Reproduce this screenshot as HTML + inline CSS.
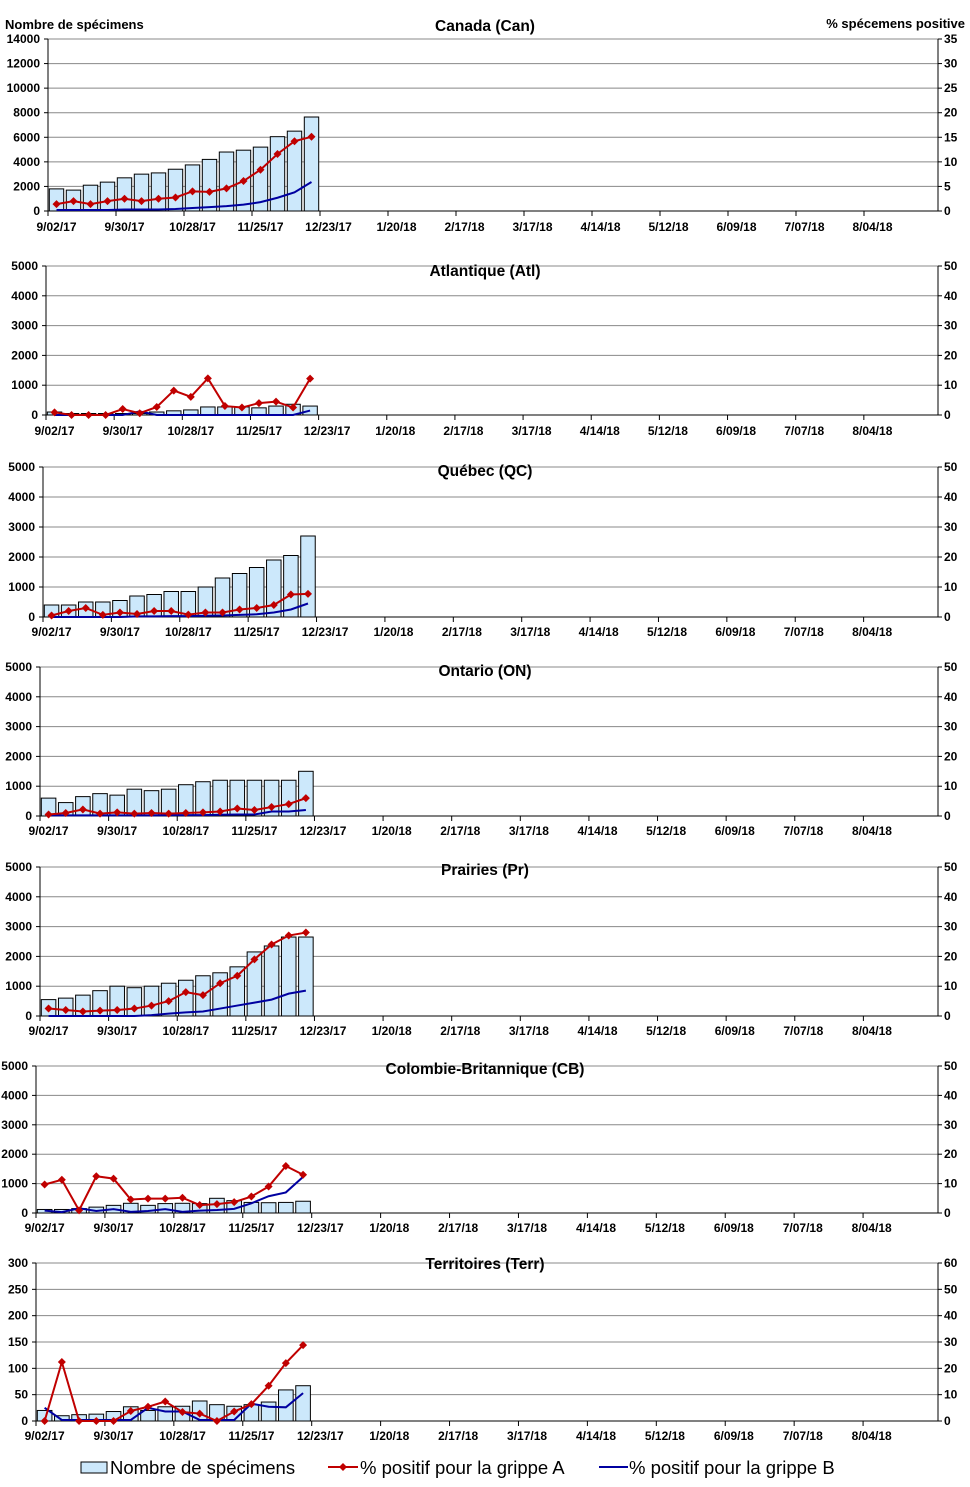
<!DOCTYPE html>
<html><head><meta charset="utf-8"><style>
body{margin:0;background:#fff;}
svg text{font-family:"Liberation Sans",Arial,sans-serif;}
</style></head><body>
<svg id="c" width="970" height="1482" xmlns="http://www.w3.org/2000/svg">
<text x="5" y="29" font-size="13" font-weight="bold">Nombre de spécimens</text>
<text x="965" y="28" font-size="13" font-weight="bold" text-anchor="end">% spécemens positive</text>
<g>
<rect x="81" y="1462" width="26" height="11" fill="#cce8fb" stroke="#000"/>
<text x="110" y="1474" font-size="18.5">Nombre de spécimens</text>
<line x1="328" y1="1467" x2="358" y2="1467" stroke="#c00000" stroke-width="2"/>
<path d="M343 1463 L347 1467 L343 1471 L339 1467Z" fill="#c00000"/>
<text x="360" y="1474" font-size="18.5">% positif pour la grippe A</text>
<line x1="599" y1="1467" x2="628" y2="1467" stroke="#0000a0" stroke-width="2"/>
<text x="629" y="1474" font-size="18.5">% positif pour la grippe B</text>
</g>
</svg>
<script>
const weekLabels=["9/02/17","9/30/17","10/28/17","11/25/17","12/23/17","1/20/18","2/17/18","3/17/18","4/14/18","5/12/18","6/09/18","7/07/18","8/04/18"];
const canSpec=[1800,1700,2100,2350,2700,3000,3100,3400,3750,4200,4800,4950,5200,6050,6500,7650];
const canA=[1.4,2,1.4,2,2.5,2,2.5,2.75,4,3.9,4.6,6.1,8.4,11.6,14.2,15.1];
const canB=[0.2,0.2,0.2,0.2,0.3,0.3,0.3,0.4,0.6,0.8,1.0,1.3,1.8,2.7,3.8,5.9];
const atlSpec=[100,50,50,50,50,50,100,140,170,270,270,270,240,300,360,300];
const atlA=[0.9,0,0,0,2,0.6,2.7,8.2,6.1,12.3,3,2.5,4,4.5,2.5,12.2];
const atlB=[0,0,0,0,0,1.2,0,0,0,0,0,0,0,0,0,1.5];
const qcSpec=[400,400,500,500,550,700,750,850,850,1000,1300,1450,1650,1900,2050,2700];
const qcA=[0.5,2,3,0.7,1.5,1,2,2,0.8,1.5,1.5,2.5,3,4,7.5,7.7];
const qcB=[0,0,0,0,0,0.2,0.2,0.3,0.3,0.4,0.5,0.7,0.9,1.5,2.5,4.5];
const onSpec=[600,450,650,750,700,900,850,900,1050,1150,1200,1200,1200,1200,1200,1500];
const onA=[0.5,1,2.2,0.8,1.2,0.8,1,0.8,1,1.2,1.5,2.5,2,3,4,6];
const onB=[0.2,0.2,0.2,0.2,0.2,0.2,0.2,0.3,0.3,0.3,0.4,0.5,0.5,1.5,1.5,2];
const prSpec=[550,600,700,850,1000,950,1000,1100,1200,1350,1450,1650,2150,2350,2650,2650];
const prA=[2.5,2,1.5,1.8,2,2.5,3.5,5,8,7,11,13.5,19,24,27,28];
const prB=[0,0,0,0,0,0,0.3,0.8,1.2,1.5,2.5,3.5,4.5,5.5,7.5,8.5];
const cbSpec=[120,120,150,200,260,330,260,320,330,320,500,420,360,350,360,400];
const cbA=[9.7,11.3,0.9,12.5,11.7,4.6,4.9,4.9,5.2,2.7,3,3.7,5.6,9,16,13];
const cbB=[0.8,0.3,1.6,0.7,1.3,0.4,0.7,1.3,0.4,0.8,1,1.4,3.3,5.7,7,12.3];
const terSpec=[20,10,12,13,18,27,20,27,28,38,31,28,31,36,59,67];
const terA=[0,22.4,0,0,0,3.8,5.4,7.4,3.4,2.8,0,3.6,6.4,13.4,22,28.8];
const terB=[5,0.4,0.4,0.4,0.4,0.4,5,3.6,3.6,0.4,0.4,0.4,6.6,5.4,5.2,10.6];

const panels=[
 {name:"canada",title:"Canada (Can)",ty:31,l:48,r:938,t:39,b:211,lmax:14000,lstep:2000,rmax:35,rstep:5,ly:231,spec:canSpec,a:canA,b2:canB},
 {name:"atlantique",title:"Atlantique (Atl)",ty:276,l:46,r:938,t:266,b:415,lmax:5000,lstep:1000,rmax:50,rstep:10,ly:435,spec:atlSpec,a:atlA,b2:atlB},
 {name:"quebec",title:"Québec (QC)",ty:476,l:43,r:938,t:467,b:617,lmax:5000,lstep:1000,rmax:50,rstep:10,ly:636,spec:qcSpec,a:qcA,b2:qcB},
 {name:"ontario",title:"Ontario (ON)",ty:676,l:40,r:938,t:667,b:816,lmax:5000,lstep:1000,rmax:50,rstep:10,ly:835,spec:onSpec,a:onA,b2:onB},
 {name:"prairies",title:"Prairies (Pr)",ty:875,l:40,r:938,t:867,b:1016,lmax:5000,lstep:1000,rmax:50,rstep:10,ly:1035,spec:prSpec,a:prA,b2:prB},
 {name:"colombie-britannique",title:"Colombie-Britannique (CB)",ty:1074,l:36,r:938,t:1066,b:1213,lmax:5000,lstep:1000,rmax:50,rstep:10,ly:1232,spec:cbSpec,a:cbA,b2:cbB},
 {name:"territoires",title:"Territoires (Terr)",ty:1269,l:36,r:938,t:1263,b:1421,lmax:300,lstep:50,rmax:60,rstep:10,ly:1440,spec:terSpec,a:terA,b2:terB}
];
const NS="http://www.w3.org/2000/svg";
const svg=document.getElementById('c');
function mk(tag,attrs,parent){const e=document.createElementNS(NS,tag);for(const k in attrs)e.setAttribute(k,attrs[k]);parent.appendChild(e);return e;}
panels.forEach(p=>{
 const g=mk('g',{},svg);
 
 
 const w=(p.r-p.l-6)/52;
 const xs=i=>p.l+(i+0.5)*w;
 const yl=v=>p.b-(v/p.lmax)*(p.b-p.t);
 const yr=v=>p.b-(v/p.rmax)*(p.b-p.t);
 const n=p.lmax/p.lstep;
 for(let k=0;k<=n;k++){
  const v=k*p.lstep,y=yl(v);
  if(k>0){const gl=mk('line',{x1:p.l,x2:p.r,y1:y,y2:y,stroke:"#888","stroke-width":1},g);
   
   }
  mk('line',{x1:p.l-4,x2:p.l,y1:y,y2:y,stroke:"#000"},g);
  const t=mk('text',{x:p.l-8,y:y+4,"font-size":12,"font-weight":"bold","text-anchor":"end"},g);
  t.textContent=v;
  
  
  const rv=p.rmax*k/n;
  const t2=mk('text',{x:p.r+6,y:y+4,"font-size":12,"font-weight":"bold"},g);
  t2.textContent=Math.round(rv);
  
  
  mk('line',{x1:p.r,x2:p.r+4,y1:y,y2:y,stroke:"#000"},g);
 }
 const tt=mk('text',{x:485,y:p.ty,"font-size":15.5,"font-weight":"bold","text-anchor":"middle"},g);
 tt.textContent=p.title;
 
 
 p.spec.forEach((v,i)=>{
  const r=mk('rect',{x:p.l+i*w+1.3,y:yl(v),width:w-2.6,height:p.b-yl(v),fill:"#cce8fb",stroke:"#000","stroke-width":1},g);
  
  
 });
 mk('line',{x1:p.l,x2:p.l,y1:p.t,y2:p.b,stroke:"#000"},g);
 mk('line',{x1:p.r,x2:p.r,y1:p.t,y2:p.b,stroke:"#000"},g);
 mk('line',{x1:p.l,x2:p.r,y1:p.b,y2:p.b,stroke:"#000"},g);
 weekLabels.forEach((lab,j)=>{
  const x0=p.l+j*4*w;
  mk('line',{x1:x0,x2:x0,y1:p.b,y2:p.b+5,stroke:"#000"},g);
  const t=mk('text',{x:xs(j*4),y:p.ly,"font-size":12,"font-weight":"bold","text-anchor":"middle"},g);
  t.textContent=lab;
  
  
 });
 const pb=mk('polyline',{points:p.b2.map((v,i)=>xs(i)+','+yr(v)).join(' '),fill:"none",stroke:"#0000a0","stroke-width":2},g);
 
 
 const pa=mk('polyline',{points:p.a.map((v,i)=>xs(i)+','+yr(v)).join(' '),fill:"none",stroke:"#c00000","stroke-width":2},g);
 
 
 p.a.forEach((v,i)=>{
  const x=xs(i),y=yr(v);
  const d=mk('path',{d:`M${x} ${y-4}L${x+4} ${y}L${x} ${y+4}L${x-4} ${y}Z`,fill:"#c00000"},g);
  
  
 });
});
</script>
</body></html>
